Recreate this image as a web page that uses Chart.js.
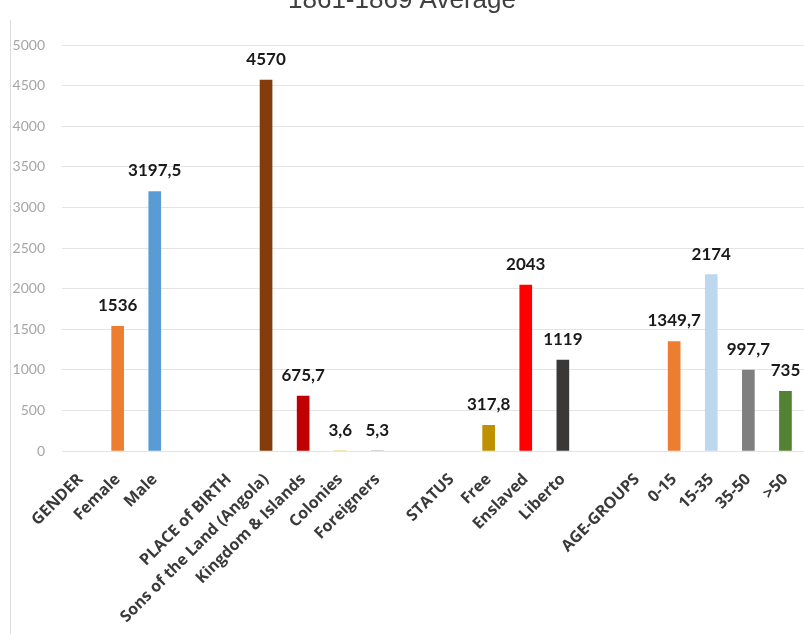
<!DOCTYPE html>
<html>
<head>
<meta charset="utf-8">
<script src="https://cdn.jsdelivr.net/npm/chart.js@4/dist/chart.umd.min.js"></script>
<style>
    html, body { margin: 0; padding: 0; background: #fff; overflow: hidden; }
    #frame-line { position: absolute; left: 10px; top: 20px; width: 1px; height: 614px; background: #dadada; }
    #chart-wrap { position: absolute; left: 0; top: -15px; width: 804px; height: 649px; }
</style>
</head>
<body>
<div id="frame-line"></div>
<div id="chart-wrap"><canvas id="average-chart" width="804" height="649"></canvas></div>
<script>
"use strict";

// Categories (group headings carry no bar, blank entries separate the groups)
var categories = ["GENDER", "Female", "Male", "",
    "PLACE of BIRTH", "Sons of the Land (Angola)", "Kingdom & Islands", "Colonies", "Foreigners", "",
    "STATUS", "Free", "Enslaved", "Liberto", "",
    "AGE-GROUPS", "0-15", "15-35", "35-50", ">50"];

// Average values 1861-1869
var averages = [null, 1536, 3197.5, null,
    null, 4570, 675.7, 3.6, 5.3, null,
    null, 317.8, 2043, 1119, null,
    null, 1349.7, 2174, 997.7, 735];

var barColors = ["#ffffff", "#ed7d31", "#5b9bd5", "#ffffff",
    "#ffffff", "#843c0c", "#c00000", "#f2dc9b", "#c9c9c9", "#ffffff",
    "#ffffff", "#bf9000", "#ff0000", "#3b3838", "#ffffff",
    "#ffffff", "#ed7d31", "#bdd7ee", "#7f7f7f", "#548235"];

var yTicks = [0, 500, 1000, 1500, 2000, 2500, 3000, 3500, 4000, 4500, 5000];

// Decimal comma, as in the source table
var formatValue = function (v) {
    return String(v).replace(".", ",");
};

// Writes each bar's value above it
var valueLabels = {
    id: "valueLabels",
    afterDatasetsDraw: function (chart) {
        var ctx = chart.ctx;
        var meta = chart.getDatasetMeta(0);
        ctx.save();
        ctx.font = "bold 17px Lato";
        ctx.fillStyle = "#1a1a1a";
        ctx.textAlign = "center";
        ctx.textBaseline = "bottom";
        meta.data.forEach(function (bar, i) {
            var v = averages[i];
            if (v === null) return;
            ctx.fillText(formatValue(v), bar.x, bar.y - 12);
        });
        ctx.restore();
    }
};

var ctx = document.getElementById("average-chart").getContext("2d");

var chart = new Chart(ctx, {
    type: "bar",
    data: {
        labels: categories,
        datasets: [{
            data: averages,
            backgroundColor: barColors,
            barThickness: 12,
            borderWidth: 0
        }]
    },
    options: {
        responsive: false,
        animation: false,
        layout: { padding: { right: 0 } },
        plugins: {
            legend: { display: false },
            tooltip: { enabled: false },
            title: {
                display: true,
                text: "1861-1869 Average",
                color: "#404040",
                font: { family: "Liberation Sans", size: 26, weight: "normal" },
                padding: { top: 0, bottom: 29 }
            }
        },
        scales: {
            x: {
                // invisible tick marks only push the labels down
                grid: { display: true, drawOnChartArea: false, drawTicks: true, tickLength: 19, color: "rgba(0,0,0,0)" },
                border: { display: false },
                ticks: {
                    autoSkip: false,
                    minRotation: 45,
                    maxRotation: 45,
                    padding: 0,
                    color: "#3a3a3a",
                    font: { family: "Open Sans", size: 16, weight: "bold" }
                },
                afterFit: function (scale) {
                    scale.height = 183;
                    scale.paddingLeft = 0;
                    scale.paddingRight = 0;
                }
            },
            y: {
                min: 0,
                max: 5000,
                afterBuildTicks: function (scale) {
                    scale.ticks = yTicks.map(function (v) { return { value: v }; });
                },
                grid: { color: "#e4e4e4", lineWidth: 1, drawTicks: false },
                border: { display: false },
                ticks: {
                    padding: 17,
                    color: "#a6a6a6",
                    font: { family: "Lato", size: 14 },
                    callback: function (value) { return String(value); }
                },
                afterFit: function (scale) {
                    scale.width = 62;
                }
            }
        }
    },
    plugins: [valueLabels]
});
</script>
</body>
</html>
